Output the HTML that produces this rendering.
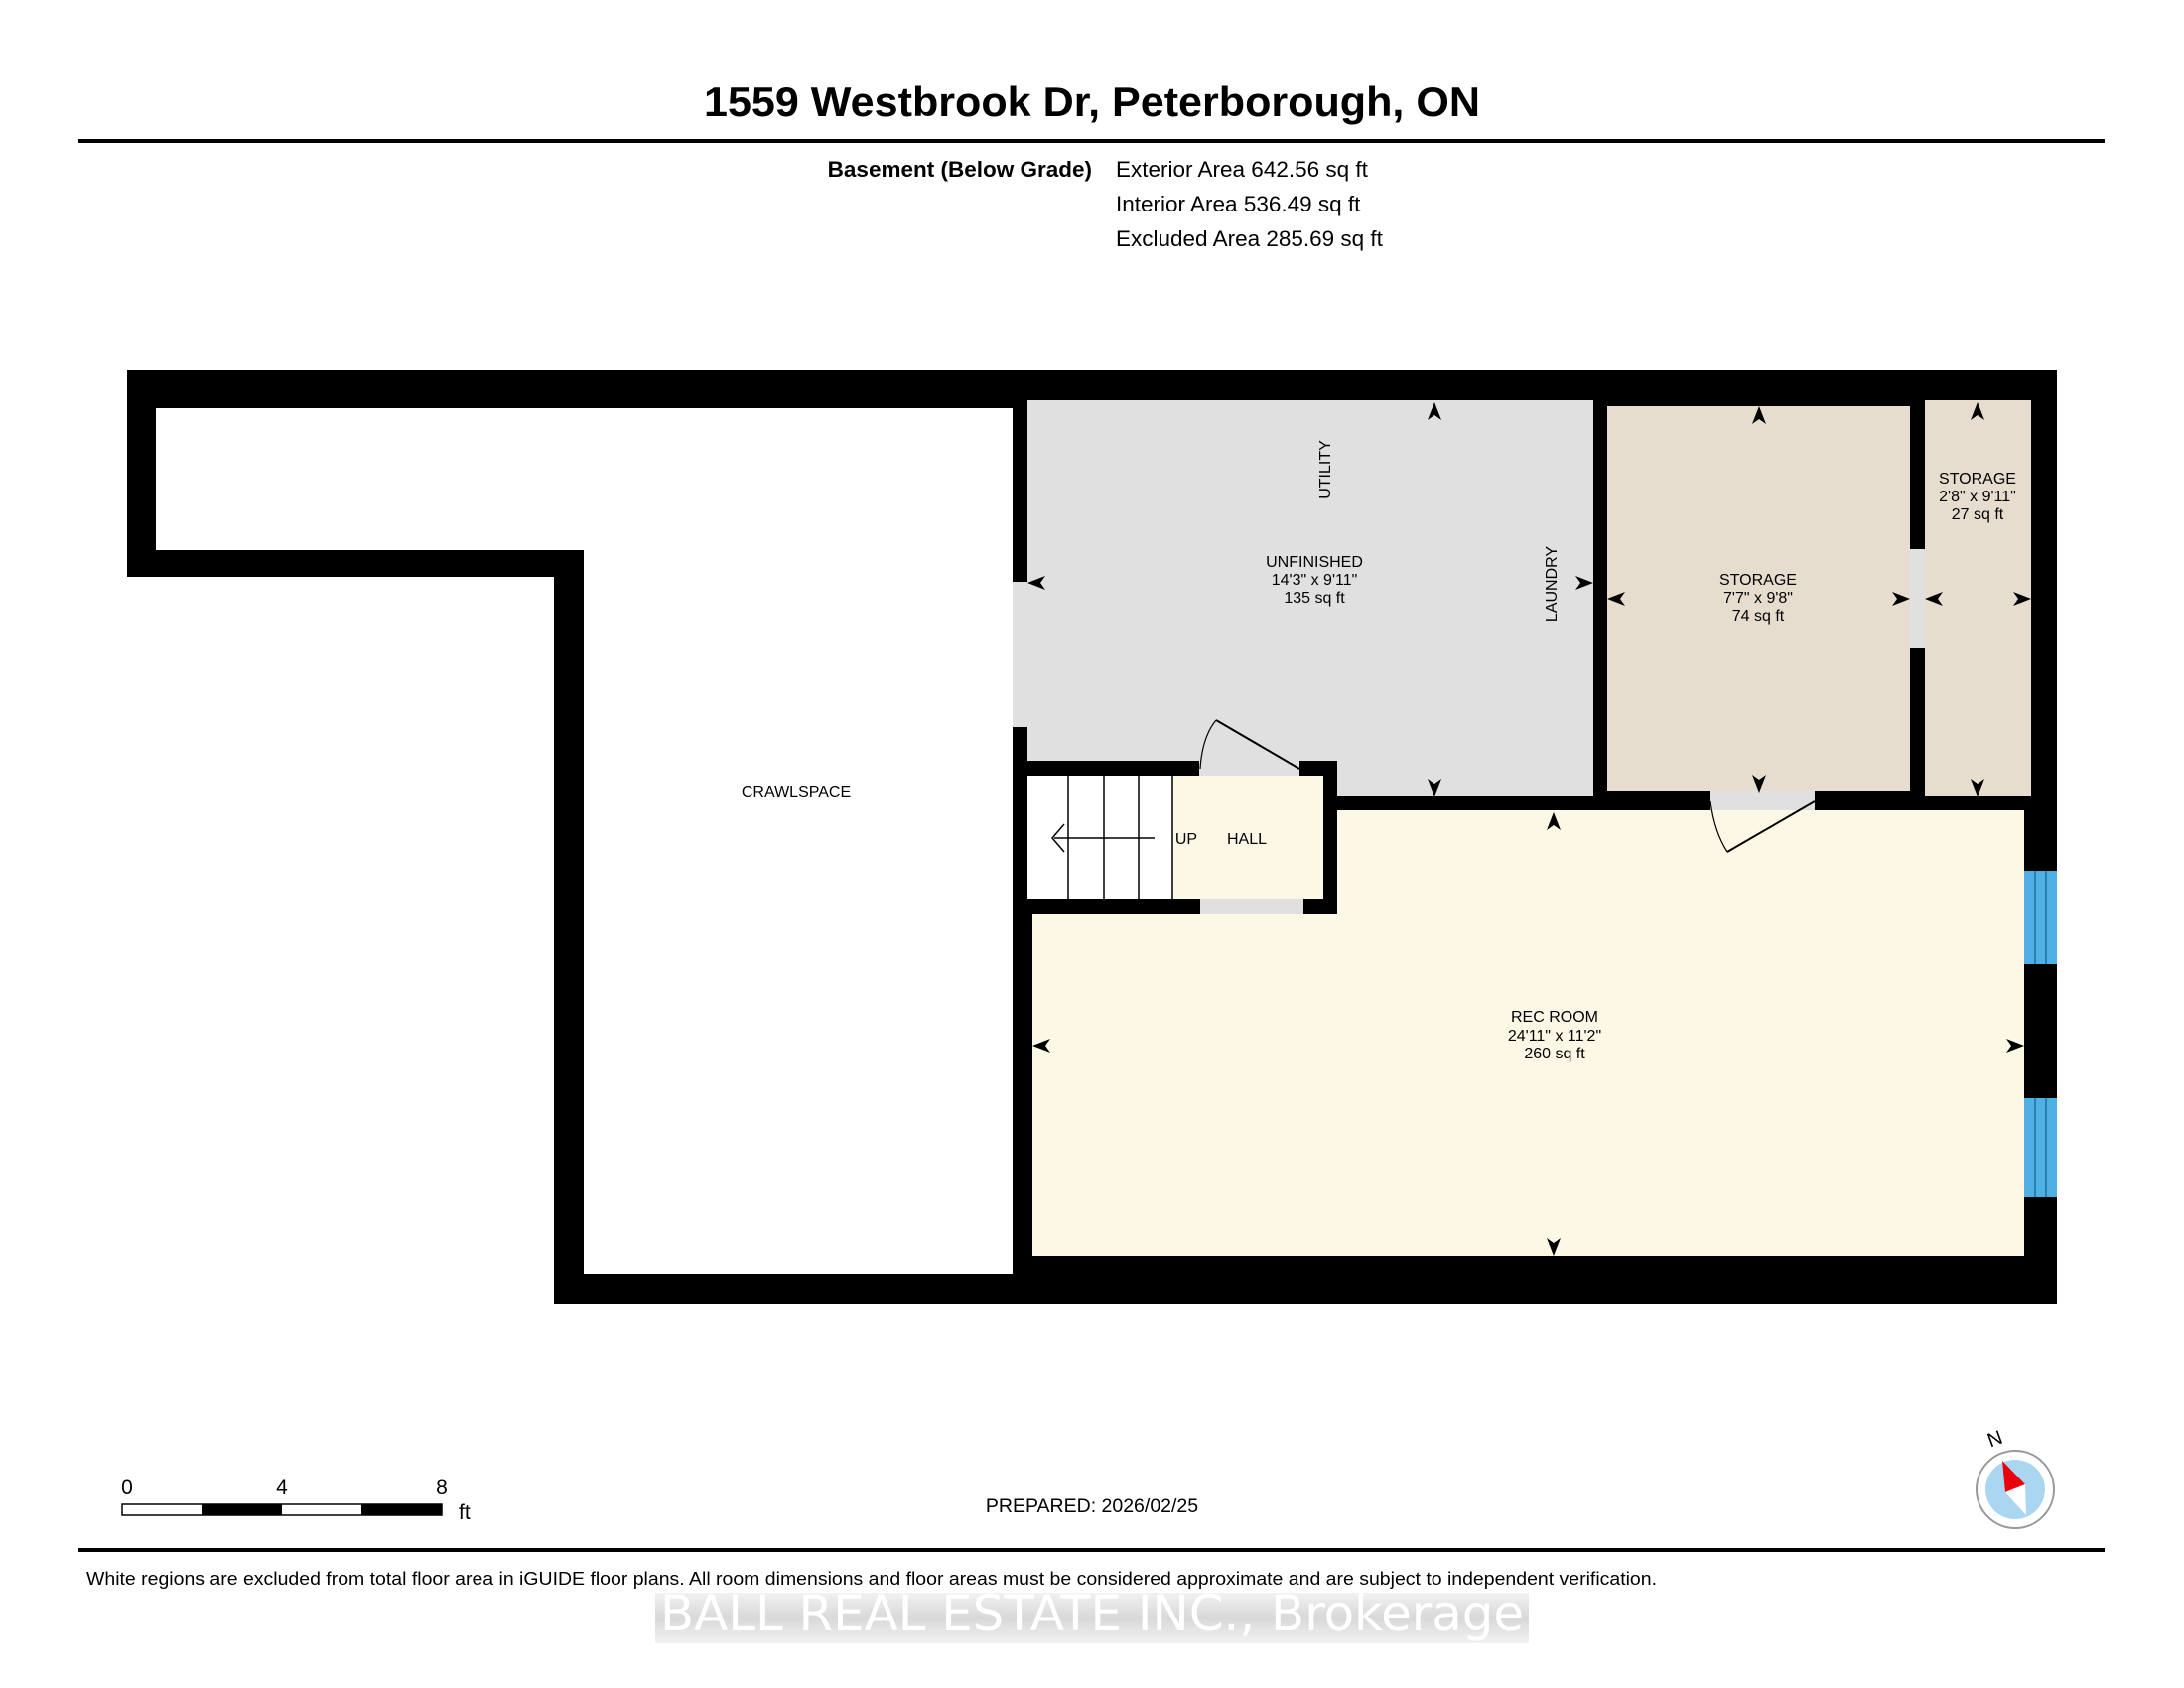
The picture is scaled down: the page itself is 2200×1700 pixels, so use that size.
<!DOCTYPE html>
<html><head><meta charset="utf-8"><style>
html,body{margin:0;padding:0;background:#fff}
svg{display:block}
text{font-family:"Liberation Sans",Arial,sans-serif}
</style></head><body>
<svg width="2200" height="1700" viewBox="0 0 2200 1700" xmlns="http://www.w3.org/2000/svg">
<defs>
<path id="ah" d="M0,0 L7,18 L0,13 L-7,18 Z" fill="#000"/>
<linearGradient id="wg" x1="0" y1="0" x2="0" y2="1"><stop offset="0" stop-color="#f2f2f2"/><stop offset="0.5" stop-color="#d8d8d8"/><stop offset="1" stop-color="#f2f2f2"/></linearGradient>
</defs>
<text x="1100" y="117" font-size="42" font-weight="bold" text-anchor="middle" textLength="782" lengthAdjust="spacingAndGlyphs">1559 Westbrook Dr, Peterborough, ON</text>
<rect x="79" y="140" width="2041" height="4" fill="#000"/>
<text x="1100" y="178" font-size="22.5" font-weight="bold" text-anchor="end">Basement (Below Grade)</text>
<text x="1124" y="178" font-size="22.5">Exterior Area 642.56 sq ft</text>
<text x="1124" y="213" font-size="22.5">Interior Area 536.49 sq ft</text>
<text x="1124" y="248" font-size="22.5">Excluded Area 285.69 sq ft</text>

<polygon points="128,373 2072,373 2072,1313 558,1313 558,581 128,581" fill="#000"/>
<polygon points="157,411 1020,411 1020,1283 588,1283 588,554 157,554" fill="#fff"/>
<rect x="1035" y="403" width="570" height="399" fill="#e0e0e0"/>
<rect x="1020" y="586" width="15" height="146" fill="#e0e0e0"/>
<rect x="1619" y="409" width="305" height="388" fill="#e6ddcf"/>
<rect x="1939" y="403" width="107" height="399" fill="#e6ddcf"/>
<rect x="1924" y="553" width="15" height="100" fill="#e0e0e0"/>
<rect x="1035" y="766" width="312" height="154" fill="#000"/>
<rect x="1035" y="782" width="146" height="123" fill="#fff"/>
<rect x="1181" y="782" width="152" height="123" fill="#fdf8e6"/>
<g stroke="#000" stroke-width="1.5"><line x1="1076" y1="782" x2="1076" y2="905"/><line x1="1112" y1="782" x2="1112" y2="905"/><line x1="1147" y1="782" x2="1147" y2="905"/><line x1="1181" y1="782" x2="1181" y2="905"/></g>
<rect x="1208" y="766" width="101" height="16" fill="#e0e0e0"/>
<rect x="1209" y="905" width="104" height="15" fill="#e0e0e0"/>
<polygon points="1347,816 2039,816 2039,1265 1040,1265 1040,920 1347,920" fill="#fdf8e6"/>
<rect x="1723" y="797" width="105" height="19" fill="#e0e0e0"/>
<g fill="#4fb0e3"><rect x="2039" y="877" width="33" height="94"/><rect x="2039" y="1106" width="33" height="100"/></g>
<g stroke="#1f6f9f" stroke-width="1.5"><line x1="2050" y1="877" x2="2050" y2="971"/><line x1="2061" y1="877" x2="2061" y2="971"/><line x1="2050" y1="1106" x2="2050" y2="1206"/><line x1="2061" y1="1106" x2="2061" y2="1206"/></g>
<g fill="none" stroke="#000" stroke-width="2">
<line x1="1309" y1="774" x2="1225" y2="725"/><path d="M1209,774 Q1211,742 1225,725" stroke-width="1.2"/>
<line x1="1828" y1="807" x2="1740" y2="858"/><path d="M1723,807 Q1727,838 1740,858" stroke-width="1.2"/>
<line x1="1163" y1="844" x2="1062" y2="844" stroke-width="1.5"/><path d="M1072,830 L1060,844 L1072,858" stroke-width="1.5"/>
</g>
<use href="#ah" x="1445" y="405"/>
<use href="#ah" transform="translate(1445,803) rotate(180)"/>
<use href="#ah" transform="translate(1035,587) rotate(-90)"/>
<use href="#ah" transform="translate(1605,587) rotate(90)"/>
<use href="#ah" x="1772" y="409"/>
<use href="#ah" transform="translate(1772,799) rotate(180)"/>
<use href="#ah" transform="translate(1619,603) rotate(-90)"/>
<use href="#ah" transform="translate(1924,603) rotate(90)"/>
<use href="#ah" x="1992" y="405"/>
<use href="#ah" transform="translate(1992,803) rotate(180)"/>
<use href="#ah" transform="translate(1939,603) rotate(-90)"/>
<use href="#ah" transform="translate(2046,603) rotate(90)"/>
<use href="#ah" x="1565" y="818"/>
<use href="#ah" transform="translate(1565,1265) rotate(180)"/>
<use href="#ah" transform="translate(1040,1053) rotate(-90)"/>
<use href="#ah" transform="translate(2039,1053) rotate(90)"/>
<g font-size="16" text-anchor="middle">
<text x="1324" y="571">UNFINISHED</text><text x="1324" y="589">14'3" x 9'11"</text><text x="1324" y="607">135 sq ft</text>
<text transform="translate(1340,473) rotate(-90)">UTILITY</text>
<text transform="translate(1568,588) rotate(-90)">LAUNDRY</text>
<text x="1771" y="589">STORAGE</text><text x="1771" y="607">7'7" x 9'8"</text><text x="1771" y="625">74 sq ft</text>
<text x="1992" y="487">STORAGE</text><text x="1992" y="505">2'8" x 9'11"</text><text x="1992" y="523">27 sq ft</text>
<text x="1566" y="1029">REC ROOM</text><text x="1566" y="1048">24'11" x 11'2"</text><text x="1566" y="1066">260 sq ft</text>
<text x="802" y="803">CRAWLSPACE</text>
<text x="1195" y="850">UP</text><text x="1256" y="850">HALL</text>
</g>
<rect x="123" y="1515" width="322" height="11" fill="#fff" stroke="#000" stroke-width="1.5"/>
<rect x="203" y="1515" width="81" height="11" fill="#000"/><rect x="364" y="1515" width="81" height="11" fill="#000"/>
<g font-size="21"><text x="128" y="1505" text-anchor="middle">0</text><text x="284" y="1505" text-anchor="middle">4</text><text x="445" y="1505" text-anchor="middle">8</text><text x="462" y="1530">ft</text></g>
<text x="1100" y="1523" font-size="19.5" text-anchor="middle">PREPARED: 2026/02/25</text>
<circle cx="2030" cy="1500" r="39" fill="#fff" stroke="#999" stroke-width="2"/>
<circle cx="2030" cy="1500" r="30" fill="#aad6f2"/>
<polygon points="2017,1471 2040,1495 2020,1503" fill="#e8000b"/>
<polygon points="2020,1503 2040,1495 2041,1526" fill="#fff"/>
<text x="2003" y="1458" font-size="20" transform="rotate(-20 2003 1452)">N</text>
<rect x="79" y="1559" width="2041" height="4" fill="#000"/>
<text x="87" y="1596" font-size="18.5" textLength="1582" lengthAdjust="spacingAndGlyphs">White regions are excluded from total floor area in iGUIDE floor plans. All room dimensions and floor areas must be considered approximate and are subject to independent verification.</text>
<rect x="660" y="1604" width="880" height="51" fill="url(#wg)"/>
<text x="1100" y="1642" font-size="50" text-anchor="middle" fill="#fff" style="font-family:'DejaVu Sans','Liberation Sans',sans-serif" textLength="870" lengthAdjust="spacingAndGlyphs">BALL REAL ESTATE INC., Brokerage</text>
</svg>
</body></html>
